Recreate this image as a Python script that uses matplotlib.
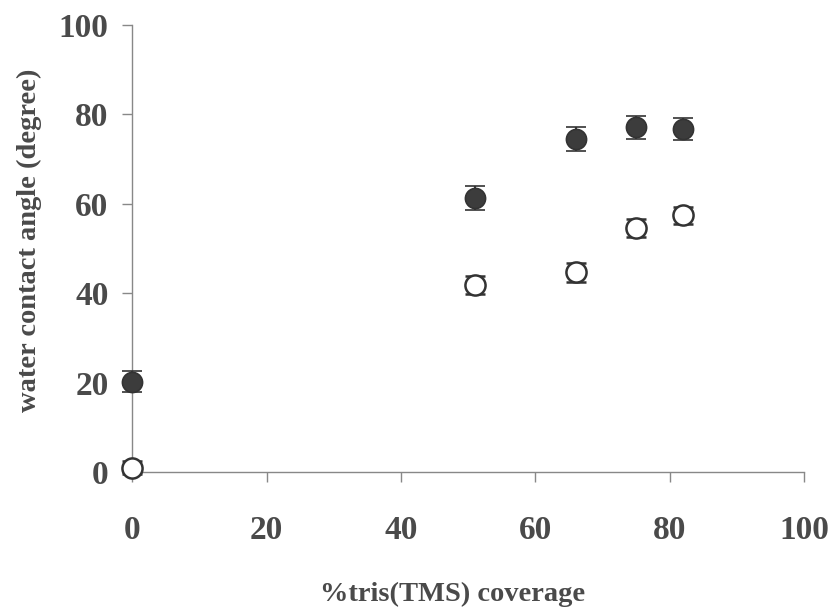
import numpy as np
import matplotlib.pyplot as plt

# data
coverage = [0, 51, 66, 75, 82]
angle_filled = [20.2, 61.3, 74.5, 77.1, 76.8]
err_filled = [2.3, 2.6, 2.6, 2.5, 2.5]
angle_open = [1.0, 41.9, 44.7, 54.6, 57.4]
err_open = [1.5, 2.0, 2.1, 2.0, 2.0]

txt = '#4a4a4a'
plt.rcParams['font.family'] = ['Liberation Serif', 'DejaVu Serif']
plt.rcParams['font.weight'] = 'bold'

fig = plt.figure(figsize=(8.31, 6.11), dpi=100)
ax = fig.add_axes([0.159, 0.2275, 0.8085, 0.7315])

ax.errorbar(coverage, angle_filled, yerr=err_filled, fmt='o', ms=14.5,
            mfc='#3c3c3c', mec='#333333', mew=1.2, ecolor='#333333',
            elinewidth=1.5, capsize=7, capthick=1.8, zorder=3)
ax.errorbar(coverage, angle_open, yerr=err_open, fmt='o', ms=14.5,
            mfc='white', mec='#333333', mew=1.8, ecolor='#333333',
            elinewidth=1.5, capsize=7, capthick=1.8, zorder=3)

ax.set_xlim(0, 100)
ax.set_ylim(0, 100)
ax.set_xticks(np.arange(0, 101, 20))
ax.set_yticks(np.arange(0, 101, 20))
for s in ['top', 'right']:
    ax.spines[s].set_visible(False)
for s in ['left', 'bottom']:
    ax.spines[s].set_color('#888888')
    ax.spines[s].set_linewidth(1.0)
ax.spines['left'].set_zorder(1)

ax.tick_params(axis='both', colors='#888888', labelcolor=txt, labelsize=24,
               length=7, width=1.0)
ax.tick_params(axis='x', pad=24)
ax.tick_params(axis='y', pad=10)
for lab in ax.get_xticklabels() + ax.get_yticklabels():
    lab.set_fontweight('bold')

# axis titles placed as in the original
fig.text(0.545, 0.0164, '%tris(TMS) coverage', fontsize=20.5, fontweight='bold',
         color=txt, ha='center', va='baseline')
fig.text(0.036, 0.607, 'water contact angle (degree)', fontsize=20.5,
         fontweight='bold', color=txt, ha='center', va='center', rotation=90)

for c in ax.get_children():
    try:
        c.set_clip_on(False)
    except Exception:
        pass

fig.savefig('out.png', dpi=100)
